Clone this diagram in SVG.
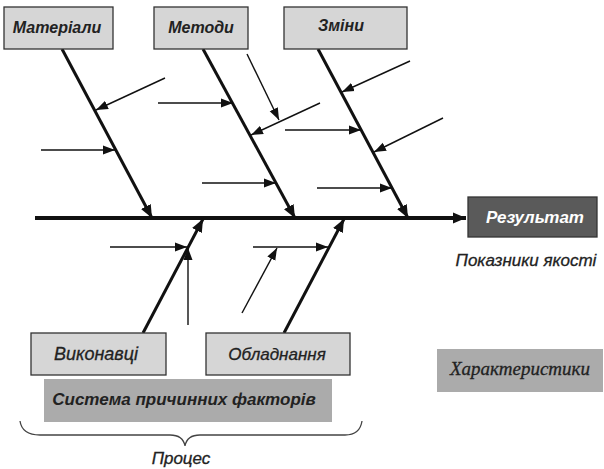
<svg xmlns="http://www.w3.org/2000/svg" width="604" height="469" viewBox="0 0 604 469">
<defs>
<marker id="ah" markerUnits="userSpaceOnUse" markerWidth="13" markerHeight="10" refX="12" refY="5" orient="auto"><path d="M0,0.5 L12,5 L0,9.5 z" fill="#111"/></marker>
<marker id="ahb" markerUnits="userSpaceOnUse" markerWidth="14" markerHeight="12" refX="13" refY="6" orient="auto"><path d="M0,0.5 L13,6 L0,11.5 z" fill="#111"/></marker>
</defs>
<style>
.box{fill:#d6d6d6;stroke:#333;stroke-width:1.3}
.dark{fill:#5a5a5a;stroke:#333;stroke-width:1.3}
.mid{fill:#ababab;stroke:none}
.bone{stroke:#111;stroke-width:3;fill:none;marker-end:url(#ahb)}
.arr{stroke:#111;stroke-width:1.4;fill:none;marker-end:url(#ah)}
.lbl{font-family:"Liberation Sans",Arial,sans-serif;font-style:italic;font-weight:bold;font-size:16px;fill:#222;text-anchor:middle}
.lbl2{font-family:"Liberation Sans",Arial,sans-serif;font-style:italic;font-size:17px;fill:#222;text-anchor:middle;stroke:#222;stroke-width:0.3}
</style>
<g id="connectors">
<line x1="35" y1="218" x2="466" y2="218" stroke="#111" stroke-width="4" marker-end="url(#ahb)"/>
<line class="bone" x1="62" y1="49" x2="152" y2="218"/>
<line class="bone" x1="203" y1="49" x2="295" y2="218"/>
<line class="bone" x1="318" y1="49" x2="408" y2="218"/>
<line class="bone" x1="143" y1="333" x2="203" y2="219"/>
<line class="bone" x1="284" y1="333" x2="344" y2="219"/>
<line class="arr" x1="165" y1="78" x2="96" y2="110"/>
<line class="arr" x1="41" y1="150" x2="115" y2="150"/>
<line class="arr" x1="158" y1="103" x2="233" y2="103"/>
<line class="arr" x1="202" y1="183" x2="276" y2="183"/>
<line class="arr" x1="247" y1="54" x2="279" y2="120"/>
<line class="arr" x1="320" y1="103" x2="251" y2="135"/>
<line class="arr" x1="285" y1="130" x2="361" y2="130"/>
<line class="arr" x1="410" y1="61" x2="342" y2="92"/>
<line class="arr" x1="443" y1="118" x2="374" y2="152"/>
<line class="arr" x1="317" y1="188" x2="392" y2="188"/>
<line class="arr" x1="110" y1="247" x2="187" y2="247"/>
<line class="arr" x1="188" y1="325" x2="188" y2="248"/>
<line class="arr" x1="242" y1="313" x2="277" y2="248"/>
<line class="arr" x1="253" y1="247" x2="328" y2="247"/>
</g>
<g id="materialy"><rect class="box" x="4" y="7" width="109" height="42"/><text class="lbl" x="57" y="33">Матеріали</text></g>
<g id="metody"><rect class="box" x="154" y="7" width="94" height="42"/><text class="lbl" x="201" y="33">Методи</text></g>
<g id="zminy"><rect class="box" x="284" y="7" width="123" height="42"/><text class="lbl" x="341" y="31" font-size="15">Зміни</text></g>
<g id="rezultat"><rect class="dark" x="468" y="197" width="129" height="40"/><text class="lbl" x="535" y="223" style="fill:#fff;font-size:17px">Результат</text></g>
<g id="pokaznyky"><text class="lbl2" x="526" y="266">Показники якості</text></g>
<g id="vykonavtsi"><rect class="box" x="31" y="333" width="135" height="42"/><text class="lbl2" x="96" y="360" style="font-size:18px">Виконавці</text></g>
<g id="obladnannia"><rect class="box" x="206" y="333" width="144" height="42"/><text class="lbl2" x="277" y="360">Обладнання</text></g>
<g id="systema"><rect class="mid" x="44" y="379" width="288" height="43"/><text class="lbl" x="184" y="405" style="font-size:17px">Система причинних факторів</text></g>
<g id="kharakterystyky"><rect class="mid" x="437" y="349" width="166" height="43"/><text x="520" y="375" style="font-family:'Liberation Serif','Times New Roman',serif;font-style:italic;font-size:19px;fill:#222;text-anchor:middle;stroke:#222;stroke-width:0.3">Характеристики</text></g>
<g id="protses">
<path d="M20,421 Q22,435 40,435 L170,435 Q183,435 185,446 Q187,435 200,435 L345,435 Q360,435 362,421" fill="none" stroke="#444" stroke-width="1.3"/>
<text class="lbl2" x="181" y="464">Процес</text>
</g>
</svg>
